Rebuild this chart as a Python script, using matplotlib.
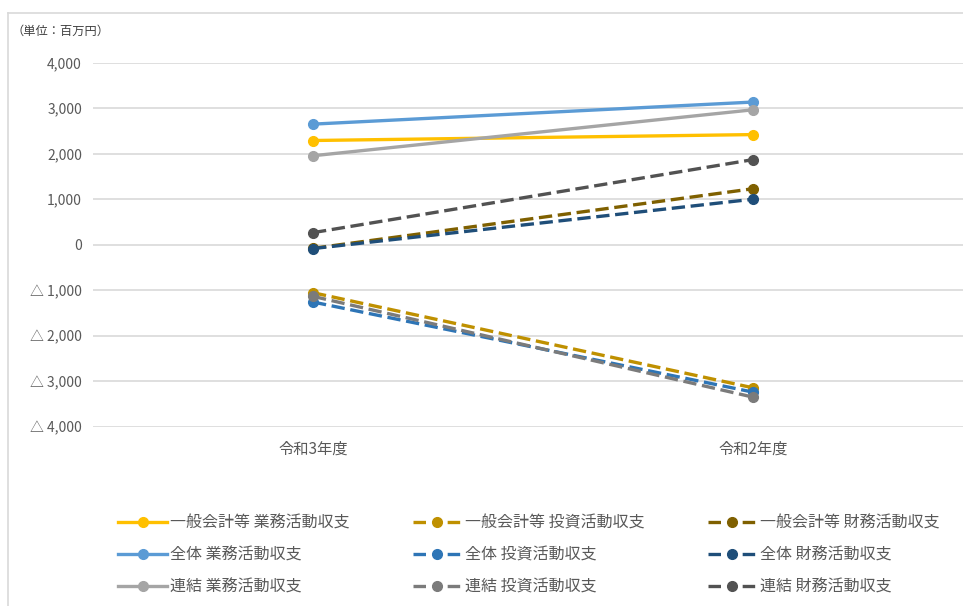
import matplotlib
matplotlib.use("Agg")
import matplotlib.pyplot as plt
from matplotlib.lines import Line2D
from matplotlib.ticker import FuncFormatter, MultipleLocator

plt.rcParams['font.family'] = ['Noto Sans CJK JP', 'DejaVu Sans']

# データ（単位：百万円）
years = ['令和3年度', '令和2年度']

ippan_gyomu = [2290, 2420]
ippan_toshi = [-1055, -3145]
ippan_zaimu = [-80, 1230]
zentai_gyomu = [2650, 3135]
zentai_toshi = [-1260, -3240]
zentai_zaimu = [-85, 1000]
renketsu_gyomu = [1955, 2965]
renketsu_toshi = [-1135, -3350]
renketsu_zaimu = [265, 1870]

series = [
    ('一般会計等 業務活動収支', ippan_gyomu, '#FFC000', '-'),
    ('一般会計等 投資活動収支', ippan_toshi, '#BF9000', '--'),
    ('一般会計等 財務活動収支', ippan_zaimu, '#7F6000', '--'),
    ('全体 業務活動収支', zentai_gyomu, '#5B9BD5', '-'),
    ('全体 投資活動収支', zentai_toshi, '#2E75B6', '--'),
    ('全体 財務活動収支', zentai_zaimu, '#1F4E79', '--'),
    ('連結 業務活動収支', renketsu_gyomu, '#A5A5A5', '-'),
    ('連結 投資活動収支', renketsu_toshi, '#7B7B7B', '--'),
    ('連結 財務活動収支', renketsu_zaimu, '#525252', '--'),
]

W, H = 963, 606
fig = plt.figure(figsize=(W / 100, H / 100), dpi=100)
ax = fig.add_axes([93 / W, 1 - 426.7 / H, 880 / W, 364 / H])

x = list(range(len(years)))
handles = []
for label, vals, color, ls in series:
    line, = ax.plot(x, vals, color=color, linewidth=2.4, linestyle=ls,
                    marker='o', markersize=7, label=label)
    if ls == '--':
        line.set_dashes((4, 1.7))
    handles.append(line)

ax.set_xlim(-0.5, 1.5)
ax.set_ylim(-4000, 4000)
ax.yaxis.set_major_locator(MultipleLocator(1000))


def fmt(v, pos):
    if v < 0:
        return f'△ {abs(int(v)):,}'
    return f'{int(v):,}'


ax.yaxis.set_major_formatter(FuncFormatter(fmt))
ax.set_xticks(x)
ax.set_xticklabels(years)
ax.tick_params(axis='both', length=0, colors='#595959', labelsize=10)
ax.tick_params(axis='x', labelsize=11, pad=10)
ax.tick_params(axis='y', pad=8)
ax.grid(axis='y', color='#D9D9D9', linewidth=1.2)
ax.set_axisbelow(True)
for s in ax.spines.values():
    s.set_visible(False)

# 外枠
fig.add_artist(Line2D([8 / W, 8 / W], [0, 1 - 13 / H], transform=fig.transFigure,
                      color='#D9D9D9', linewidth=1.2))
fig.add_artist(Line2D([8 / W, 1], [1 - 13 / H, 1 - 13 / H], transform=fig.transFigure,
                      color='#D9D9D9', linewidth=1.2))

fig.text(12 / W, 1 - 31.5 / H, '（単位：百万円）', fontsize=8.8, color='#404040',
         va='center', ha='left')

order = [0, 3, 6, 1, 4, 7, 2, 5, 8]
leg = fig.legend([handles[i] for i in order], [series[i][0] for i in order],
                 ncol=3, loc='upper left', bbox_to_anchor=(118 / W, 1 - 515 / H),
                 frameon=False, fontsize=11.5, handlelength=3.07, handletextpad=0.19,
                 columnspacing=3.95, labelspacing=0.94, borderpad=0, borderaxespad=0)
for t in leg.get_texts():
    t.set_color('#595959')
# 凡例の破線は「– ● –」の形にする
for h, i in zip(leg.legend_handles, order):
    if series[i][3] == '--':
        h.set_dashes((3.75, 6.5))

fig.savefig('out.png', dpi=100)
